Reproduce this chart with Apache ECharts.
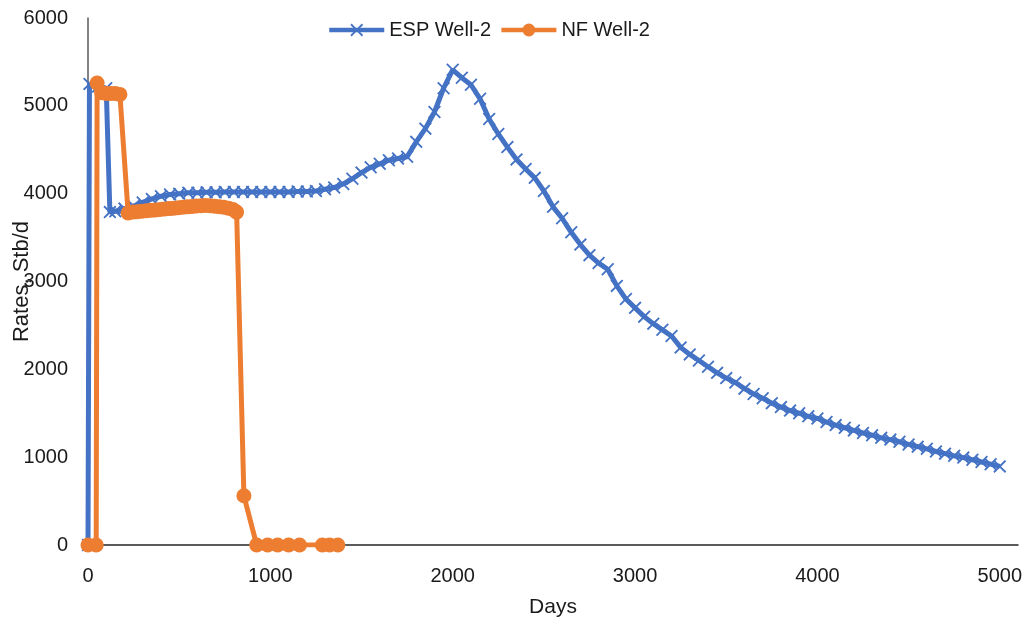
<!DOCTYPE html>
<html>
<head>
<meta charset="utf-8">
<script src="https://cdn.jsdelivr.net/npm/echarts@6/dist/echarts.min.js"></script>
<style>
  html, body { margin: 0; padding: 0; background: #ffffff; }
  #chart { width: 1031px; height: 627px; }
</style>
</head>
<body>
<div id="chart"></div>
<script>
// Daily oil rate (Stb/d) versus time (days) for Well-2
const seriesNames = ['ESP Well-2', 'NF Well-2'];

// ESP Well-2: [day, rate]
const espWell2 = [
  [0, 0], [8, 5250], [55, 5220], [100, 5200], [120, 3790], [150, 3800],
  [200, 3830], [250, 3860], [300, 3900], [350, 3940], [400, 3970], [450, 3990],
  [500, 4000], [550, 4010], [600, 4010], [650, 4015], [700, 4015], [750, 4020],
  [800, 4020], [850, 4020], [900, 4020], [950, 4020], [1000, 4020], [1050, 4020],
  [1100, 4020], [1150, 4025], [1200, 4025], [1250, 4030], [1300, 4050], [1350, 4070],
  [1400, 4110], [1450, 4170], [1500, 4240], [1550, 4300], [1600, 4340], [1650, 4380],
  [1700, 4400], [1750, 4420], [1800, 4590], [1850, 4740], [1900, 4930], [1950, 5200],
  [2000, 5410], [2050, 5320], [2100, 5240], [2150, 5080], [2200, 4850], [2250, 4680],
  [2300, 4530], [2350, 4390], [2400, 4280], [2450, 4180], [2500, 4030], [2550, 3850],
  [2600, 3720], [2650, 3560], [2700, 3420], [2750, 3300], [2800, 3210], [2850, 3140],
  [2900, 2950], [2950, 2800], [3000, 2700], [3050, 2600], [3100, 2520], [3150, 2450],
  [3200, 2380], [3250, 2250], [3300, 2170], [3350, 2100], [3400, 2030], [3450, 1960],
  [3500, 1900], [3550, 1850], [3600, 1780], [3650, 1720], [3700, 1670], [3750, 1615],
  [3800, 1570], [3850, 1530], [3900, 1500], [3950, 1465], [4000, 1440], [4050, 1400],
  [4100, 1365], [4150, 1335], [4200, 1305], [4250, 1275], [4300, 1250], [4350, 1220],
  [4400, 1200], [4450, 1175], [4500, 1145], [4550, 1120], [4600, 1095], [4650, 1065],
  [4700, 1040], [4750, 1015], [4800, 995], [4850, 970], [4900, 945], [4950, 920],
  [5000, 895]
];

// NF Well-2: [day, rate]
const nfWell2 = [
  [0, 0], [45, 0], [50, 5260], [75, 5150], [100, 5140], [125, 5140], [150, 5140],
  [175, 5130], [220, 3780], [245, 3790], [270, 3795], [295, 3800], [320, 3805],
  [345, 3810], [370, 3815], [395, 3820], [420, 3825], [445, 3830], [470, 3835],
  [495, 3840], [520, 3845], [545, 3850], [570, 3855], [595, 3860], [620, 3862],
  [645, 3865], [670, 3862], [695, 3858], [720, 3852], [745, 3845], [770, 3835],
  [795, 3820], [815, 3790], [855, 560], [925, 0], [985, 0], [1040, 0], [1100, 0],
  [1160, 0], [1285, 0], [1325, 0], [1370, 0]
];

const xTicks = [0, 1000, 2000, 3000, 4000, 5000];
const yTicks = [0, 1000, 2000, 3000, 4000, 5000, 6000];

const FONT = 'Liberation Sans';
const TEXT = '#1a1a1a';
const BLUE = '#4472C4';
const ORANGE = '#ED7D31';
const CROSS = 'path://M0,1L1,0L5,4L9,0L10,1L6,5L10,9L9,10L5,6L1,10L0,9L4,5Z';

const chart = echarts.init(document.getElementById('chart'), null, { renderer: 'canvas' });

chart.setOption({
  animation: false,
  backgroundColor: '#ffffff',
  textStyle: { fontFamily: FONT, color: TEXT },
  legend: {
    top: 15,
    left: 322,
    itemWidth: 55,
    itemHeight: 16,
    itemGap: 8,
    lineStyle: { width: 4.5 },
    textStyle: { fontFamily: FONT, fontSize: 20, color: TEXT },
    data: seriesNames
  },
  grid: {
    left: 88, right: 13, top: 18, bottom: 82,
    containLabel: false,
    outerBoundsMode: 'none'
  },
  xAxis: {
    type: 'value',
    min: 0,
    max: 5100,
    interval: 1000,
    name: 'Days',
    nameLocation: 'middle',
    nameGap: 52,
    nameMoveOverlap: false,
    nameTextStyle: { fontFamily: FONT, fontSize: 21, color: TEXT },
    axisLine: { show: true, onZero: false, lineStyle: { color: '#262626', width: 1.5 } },
    axisTick: { show: false },
    splitLine: { show: false },
    axisLabel: {
      fontFamily: FONT, fontSize: 20, color: TEXT, margin: 21,
      showMaxLabel: false,
      formatter: v => (xTicks.includes(v) ? String(v) : '')
    }
  },
  yAxis: {
    type: 'value',
    min: 0,
    max: 6000,
    interval: 1000,
    name: 'Rates, Stb/d',
    nameLocation: 'middle',
    nameGap: 55,
    nameRotate: 90,
    nameMoveOverlap: false,
    nameTextStyle: { fontFamily: FONT, fontSize: 22, color: TEXT },
    axisLine: { show: true, lineStyle: { color: '#595959', width: 1.5 } },
    axisTick: { show: false },
    splitLine: { show: false },
    axisLabel: {
      fontFamily: FONT, fontSize: 20, color: TEXT, margin: 20,
      formatter: v => (yTicks.includes(v) ? String(v) : '')
    }
  },
  series: [
    {
      name: seriesNames[0],
      type: 'line',
      data: espWell2,
      symbol: CROSS,
      symbolSize: 13,
      showAllSymbol: true,
      lineStyle: { color: BLUE, width: 5 },
      itemStyle: { color: BLUE, borderWidth: 0 },
      z: 2
    },
    {
      name: seriesNames[1],
      type: 'line',
      data: nfWell2,
      symbol: 'circle',
      symbolSize: 15,
      showAllSymbol: true,
      lineStyle: { color: ORANGE, width: 5 },
      itemStyle: { color: ORANGE, borderWidth: 0 },
      z: 3
    }
  ]
});
</script>
</body>
</html>
